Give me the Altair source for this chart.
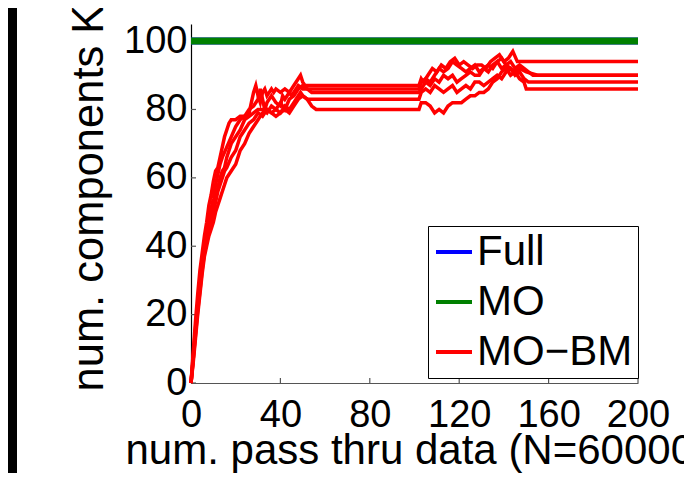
import altair as alt
import pandas as pd

X_TICKS = [0, 40, 80, 120, 160, 200]
Y_TICKS = [0, 20, 40, 60, 80, 100]
SERIES = ["Full", "MO", "MO\u2212BM"]
COLORS = ["#0000ff", "#008000", "#ff0000"]

full_x = [0, 200]
full_k = [100, 100]
mo_x = [0, 200]
mo_k = [100, 100]

run1 = [(0,0),(1,9),(2,18),(3,26),(4,33),(5,38),(6,43),(7,47),(8,52),(9,55),(10,59),(11,62),(12,63),
        (13,66),(14,69),(15,72),(16,74),(17,76),(18,77),(20,77),(22,78),(24,78),(26,79),(27,82),(28,85),
        (29,87),(30,84),(31,82),(32,85),(33,86),(34,84),(35,85),(36,86),(37,85),(38,86),(40,85),(42,86),
        (44,85),(46,87),(48,89),(49,90),(50,88),(51,87),(56,87),(102,87),(103,89),(104,88),(106,90),
        (108,92),(110,91),(112,93),(114,92),(116,94),(118,95),(120,93),(122,94),(124,93),(126,92),
        (128,93),(130,93),(132,92),(134,94),(136,95),(138,96),(140,94),(142,95),(144,97),(146,94),(200,94)]
run2 = [(0,0),(1,7),(2,15),(3,22),(4,29),(5,35),(6,40),(7,44),(8,47),(9,51),(10,54),(11,58),(12,61),
        (13,64),(14,66),(16,69),(18,72),(20,75),(22,77),(24,78),(26,80),(28,81),(30,83),(31,86),(32,83),
        (33,80),(34,82),(36,84),(38,82),(40,81),(41,84),(42,83),(44,85),(45,84),(47,86),(48,87),(50,86),
        (53,86),(102,86),(103,88),(105,89),(107,88),(109,90),(111,92),(113,91),(115,92),(117,94),(119,93),
        (121,92),(123,91),(125,92),(127,93),(129,91),(131,92),(133,91),(135,93),(137,94),(139,92),(141,93),
        (143,92),(145,91),(147,92),(150,91),(155,90),(200,90)]
run3 = [(0,0),(1,8),(2,16),(3,23),(4,30),(5,36),(6,41),(7,44),(8,46),(9,49),(10,52),(11,55),(12,57),
        (13,60),(14,62),(15,63),(16,66),(17,68),(18,70),(20,72),(22,74),(24,77),(26,78),(28,79),(30,80),
        (32,80),(34,79),(36,81),(38,80),(40,82),(42,80),(44,83),(46,84),(48,86),(50,87),(52,86),(54,85),
        (56,85),(102,85),(103,86),(105,88),(107,87),(109,89),(111,88),(113,90),(115,89),(117,90),(119,88),
        (121,89),(123,90),(125,91),(127,90),(129,90),(131,92),(133,93),(135,92),(137,94),(139,95),(141,93),
        (143,94),(145,92),(147,93),(149,92),(151,91),(153,90),(200,90)]
run4 = [(0,0),(1,7),(2,14),(3,21),(4,27),(5,33),(6,38),(7,42),(8,45),(9,47),(10,50),(11,53),(12,56),
        (13,58),(14,60),(15,62),(16,63),(18,66),(20,68),(22,72),(24,74),(26,76),(28,77),(30,79),(32,78),
        (34,80),(36,79),(38,80),(40,79),(42,81),(44,80),(46,82),(48,84),(49,85),(50,84),(52,83),(55,83),
        (102,83),(103,85),(105,86),(107,85),(109,87),(111,86),(113,85),(115,86),(117,87),(119,85),(121,86),
        (123,87),(125,86),(127,88),(129,88),(131,87),(133,88),(135,89),(137,90),(139,89),(141,91),(143,92),
        (145,90),(147,91),(149,89),(151,88),(200,88)]
run5 = [(0,0),(1,6),(2,13),(3,20),(4,26),(5,32),(6,37),(7,40),(8,43),(9,45),(10,47),(11,50),(12,52),
        (13,54),(14,56),(15,58),(16,60),(18,62),(20,64),(21,66),(22,68),(24,70),(26,73),(28,75),(30,77),
        (32,79),(34,80),(36,79),(38,78),(40,79),(42,80),(44,79),(46,81),(48,83),(50,84),(52,83),(54,81),
        (56,80),(102,80),(103,82),(105,82),(107,81),(109,79),(111,80),(113,79),(115,81),(117,82),(119,82),
        (121,82),(123,83),(125,84),(127,84),(129,85),(131,85),(133,86),(135,88),(137,89),(139,91),(141,92),
        (143,90),(145,91),(147,89),(149,88),(150,86),(200,86)]
RUNS = [run1, run2, run3, run4, run5]

rows = []
for x, k in zip(full_x, full_k):
    rows.append({"x": x, "k": k, "series": SERIES[0], "run": "full", "o": 0})
for x, k in zip(mo_x, mo_k):
    rows.append({"x": x, "k": k, "series": SERIES[1], "run": "mo", "o": 0})
for i, r in enumerate(RUNS):
    for j, (x, k) in enumerate(r):
        rows.append({"x": x, "k": k, "series": SERIES[2], "run": f"r{i}", "o": j})
df = pd.DataFrame(rows)

FONT = "Liberation Sans"
W, H = 447, 359

xscale = alt.Scale(domain=[0, 200], nice=False, zero=False)
yscale = alt.Scale(domain=[0, 105], nice=False)
cscale = alt.Scale(domain=SERIES, range=COLORS)

x_axis = alt.Axis(values=X_TICKS, ticks=False, tickSize=0, grid=False, labelFontSize=38,
                  labelFont=FONT, labelColor="black", labelPadding=13, labelFlush=False,
                  labelOverlap=False, domainColor="#555555", domainWidth=1.2,
                  title="num. pass thru data (N=60000)", titleFont=FONT, titleFontSize=42,
                  titleFontWeight="normal", titleColor="black", titleAlign="left",
                  titleAnchor="start", titleBaseline="alphabetic", titleX=-66, titleY=80)
y_axis = alt.Axis(values=Y_TICKS, ticks=False, tickSize=0, grid=False, labelFontSize=38,
                  labelFont=FONT, labelColor="black", labelPadding=4, labelFlush=False,
                  labelOverlap=False, domainColor="black", domainWidth=1.2,
                  title="num. components K", titleFont=FONT, titleFontSize=43.5,
                  titleFontWeight="normal", titleColor="black", titleAngle=270,
                  titleAlign="left", titleBaseline="alphabetic", titleX=-89, titleY=367)

X_ENC = alt.X("x:Q", scale=xscale, axis=x_axis)
Y_ENC = alt.Y("k:Q", scale=yscale, axis=y_axis)

base = alt.Chart(df)

def series_layer(name, width):
    return base.transform_filter(alt.datum.series == name).mark_line(
        strokeWidth=width, strokeCap="butt", clip=False
    ).encode(
        x=X_ENC,
        y=Y_ENC,
        color=alt.Color("series:N", scale=cscale, title=None),
        detail="run:N",
        order="o:Q",
    )

full_layer = series_layer(SERIES[0], 7)
mo_layer = series_layer(SERIES[1], 7)
bm_layer = series_layer(SERIES[2], 3.5)

xt = pd.DataFrame({"x": X_TICKS})
yt = pd.DataFrame({"k": Y_TICKS})
xtick_layer = alt.Chart(xt).mark_rule(color="#555555", strokeWidth=1.2).encode(
    x=X_ENC, y=alt.value(H), y2=alt.value(H - 5))
ytick_layer = alt.Chart(yt).mark_rule(color="#555555", strokeWidth=1.2).encode(
    y=Y_ENC, x=alt.value(0), x2=alt.value(5))

strip = alt.Chart(pd.DataFrame({"a": [0]})).mark_rect(color="black").encode(
    x=alt.value(-183), x2=alt.value(-174), y=alt.value(-16), y2=alt.value(H + 100))

chart = alt.layer(strip, xtick_layer, ytick_layer, full_layer, mo_layer, bm_layer).properties(
    width=W, height=H,
    autosize=alt.AutoSizeParams(type="none"),
    padding={"left": 183, "top": 16, "right": 46, "bottom": 90},
    background="white",
).configure_view(stroke=None).configure_legend(
    orient="none", legendX=237, legendY=202,
    strokeColor="black", fillColor="white", padding=5, cornerRadius=0,
    symbolType="stroke", symbolSize=1296, symbolStrokeWidth=4,
    labelFont=FONT, labelFontSize=42, labelColor="black", labelOffset=2,
    rowPadding=8, labelLimit=400,
)

chart.save("out.html", embed_options={"renderer": "svg", "actions": False})
